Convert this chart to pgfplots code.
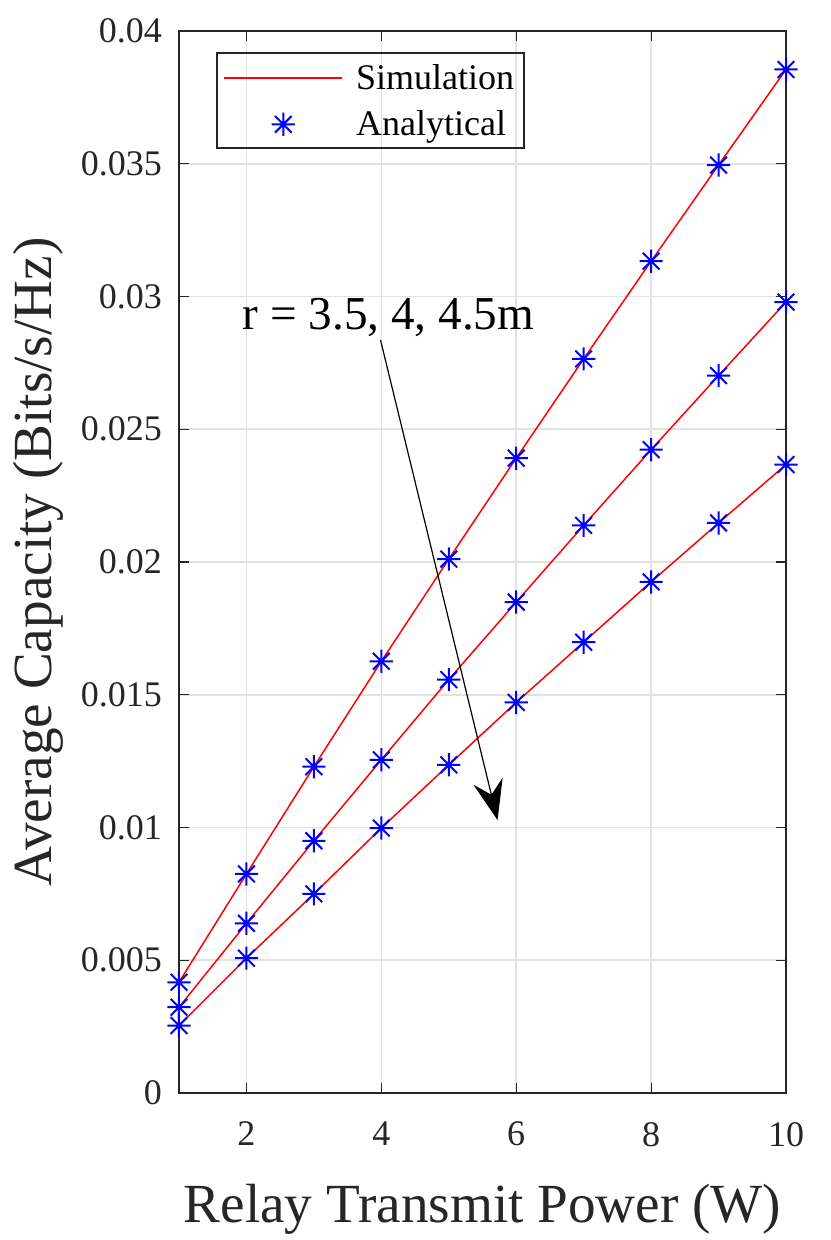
\documentclass[border=0pt]{standalone}
\usepackage{fontspec}
\setmainfont{Liberation Serif}
\usepackage{pgfplots}
\pgfplotsset{compat=1.18}
\usetikzlibrary{arrows.meta}
\definecolor{axgray}{HTML}{262626}
\definecolor{gridgray}{HTML}{E2E2E2}
\pgfdeclareplotmark{matstar}{%
  \pgfpathmoveto{\pgfqpoint{-\pgfplotmarksize}{0pt}}\pgfpathlineto{\pgfqpoint{\pgfplotmarksize}{0pt}}%
  \pgfpathmoveto{\pgfqpoint{0pt}{-\pgfplotmarksize}}\pgfpathlineto{\pgfqpoint{0pt}{\pgfplotmarksize}}%
  \pgfpathmoveto{\pgfqpoint{-0.72\pgfplotmarksize}{-0.72\pgfplotmarksize}}\pgfpathlineto{\pgfqpoint{0.72\pgfplotmarksize}{0.72\pgfplotmarksize}}%
  \pgfpathmoveto{\pgfqpoint{-0.72\pgfplotmarksize}{0.72\pgfplotmarksize}}\pgfpathlineto{\pgfqpoint{0.72\pgfplotmarksize}{-0.72\pgfplotmarksize}}%
  \pgfusepathqstroke}
\pgfplotstableread{
x s1 s2 s3
1 0.00417 0.00323 0.00254
2 0.00825 0.00639 0.00508
3 0.01229 0.00950 0.00750
4 0.01626 0.01255 0.00998
5 0.02011 0.01557 0.01236
6 0.02391 0.01849 0.01471
7 0.02765 0.02138 0.01698
8 0.03133 0.02423 0.01925
9 0.03495 0.02702 0.02147
10 0.03855 0.02979 0.02367
}\datatable
\begin{document}
\begin{tikzpicture}
\begin{axis}[
  scale only axis,
  width=303.5pt, height=531pt,
  xmin=1, xmax=10, ymin=0, ymax=0.04,
  xtick={2,4,6,8,10},
  ytick={0,0.005,0.01,0.015,0.02,0.025,0.03,0.035,0.04},
  yticklabels={0,0.005,0.01,0.015,0.02,0.025,0.03,0.035,0.04},
  scaled y ticks=false,
  /pgf/number format/assume math mode=true,
  tick align=inside,
  major tick length=5pt,
  tick style={axgray, line width=0.6pt},
  axis line style={axgray, line width=0.6pt},
  grid=major,
  grid style={gridgray, line width=0.8pt},
  ticklabel style={font=\fontsize{18}{20}\selectfont, text=axgray},
  yticklabel style={xshift=-5pt},
  xticklabel style={yshift=-11pt},
  xlabel={Relay Transmit Power (W)},
  ylabel={Average Capacity (Bits/s/Hz)},
  label style={font=\fontsize{27.6}{30}\selectfont, text=axgray},
  xlabel style={yshift=-12pt},
  ylabel style={yshift=2pt},
  legend style={at={(0.0626,0.9793)}, anchor=north west, draw=none, fill=none,
    font=\fontsize{18}{20}\selectfont, inner xsep=3pt, inner ysep=3.5pt,
    row sep=5pt, cells={anchor=west},
    /tikz/every odd column/.append style={column sep=4.5pt}},
]
\addplot[red, line width=0.75pt, forget plot] table[x=x,y=s1]{\datatable};
\addplot[red, line width=0.75pt, forget plot] table[x=x,y=s2]{\datatable};
\addplot[red, line width=0.75pt, forget plot] table[x=x,y=s3]{\datatable};
\addplot[blue, only marks, mark=matstar, mark size=5.8pt, line width=1pt, forget plot] table[x=x,y=s1]{\datatable};
\addplot[blue, only marks, mark=matstar, mark size=5.8pt, line width=1pt, forget plot] table[x=x,y=s2]{\datatable};
\addplot[blue, only marks, mark=matstar, mark size=5.8pt, line width=1pt, forget plot] table[x=x,y=s3]{\datatable};
\addlegendimage{legend image code/.code={\draw[red, line width=0.9pt] (0pt,0pt) -- (59pt,0pt);}}
\addlegendentry{Simulation}
\addlegendimage{legend image code/.code={\draw[draw=none] (0pt,0pt) -- (59pt,0pt);
  \draw[blue, line width=1pt] plot[mark=matstar, mark size=5.8pt] coordinates {(29.5pt,0pt)};}}
\addlegendentry{Analytical}
\draw[axgray, line width=0.6pt] (rel axis cs:0.0626,0.8898) rectangle (rel axis cs:0.5684,0.9793);
\draw[black, line width=0.6pt, -{Stealth[length=20pt, width=15pt, inset=7pt]}] (axis cs:3.988,0.02836) -- (axis cs:5.723,0.01028);
\node[anchor=base west, inner sep=0pt, font=\fontsize{23.6}{26}\selectfont] at (axis cs:1.9416,0.02874) {r = 3.5, 4, 4.5m};
\end{axis}
\pgfresetboundingbox
\path[use as bounding box] (-89.5pt,-73.5pt) rectangle (325.5pt,546.5pt);
\end{tikzpicture}
\end{document}
